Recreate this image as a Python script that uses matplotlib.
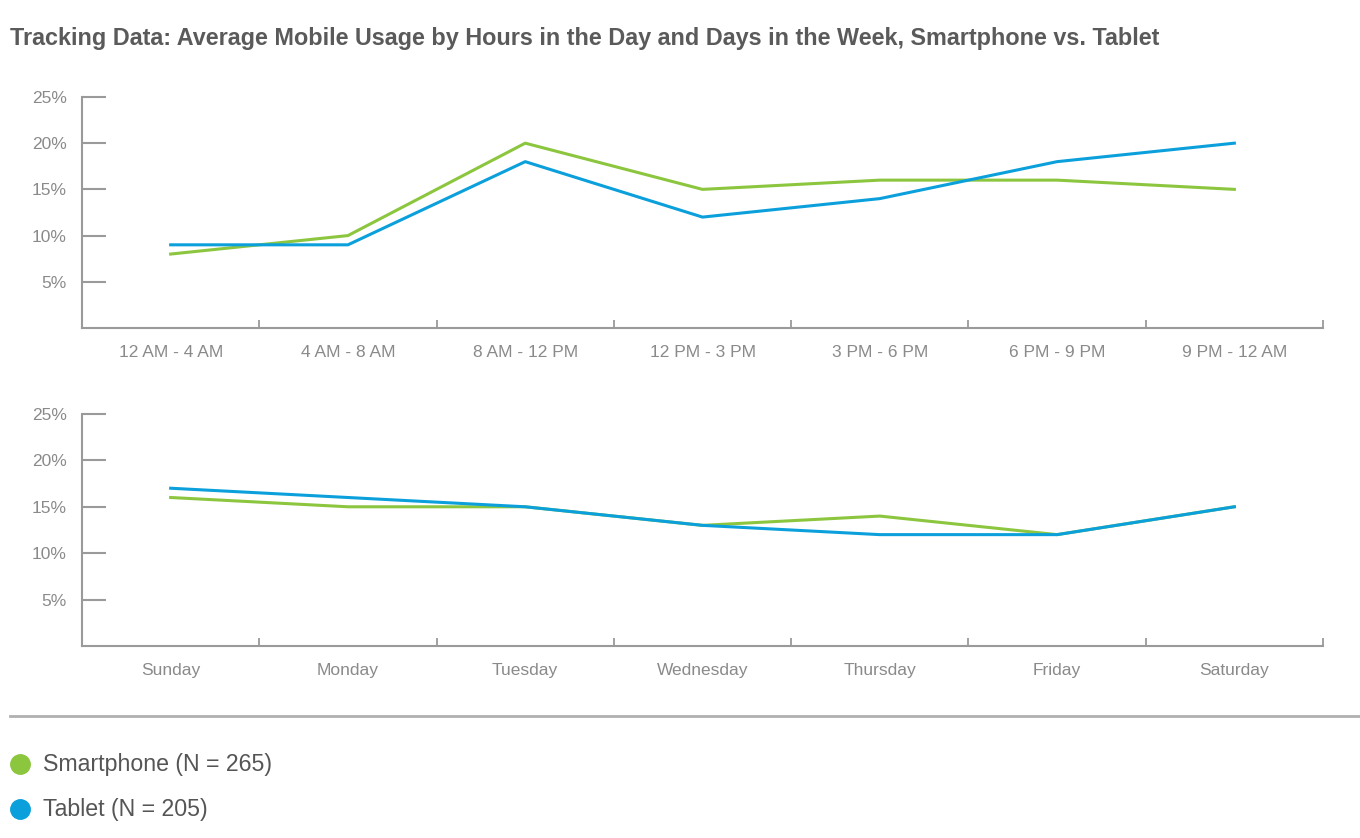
import matplotlib
matplotlib.use("Agg")
import matplotlib.pyplot as plt
from matplotlib.lines import Line2D

plt.rcParams['font.family'] = ['Liberation Sans', 'DejaVu Sans']

hours = ["12 AM - 4 AM", "4 AM - 8 AM", "8 AM - 12 PM", "12 PM - 3 PM",
         "3 PM - 6 PM", "6 PM - 9 PM", "9 PM - 12 AM"]
days = ["Sunday", "Monday", "Tuesday", "Wednesday", "Thursday", "Friday", "Saturday"]

phone_hours = [8, 10, 20, 15, 16, 16, 15]
tablet_hours = [9, 9, 18, 12, 14, 18, 20]
phone_days = [16, 15, 15, 13, 14, 12, 15]
tablet_days = [17, 16, 15, 13, 12, 12, 15]

green = "#8cc63f"
blue = "#0ba0db"
axis_gray = "#9a9a9a"
label_gray = "#8a8a8a"

fig = plt.figure(figsize=(13.6, 8.38), dpi=100)

def panel(rect, labels, phone, tablet):
    ax = fig.add_axes(rect)
    x = [i + 0.5 for i in range(len(labels))]
    ax.plot(x, phone, color=green, lw=2.2, zorder=3)
    ax.plot(x, tablet, color=blue, lw=2.2, zorder=4)
    ax.set_xlim(0, len(labels))
    ax.set_ylim(0, 25)
    ax.set_yticks([5, 10, 15, 20, 25])
    ax.set_yticklabels(["5%", "10%", "15%", "20%", "25%"])
    ax.set_xticks(range(len(labels) + 1))
    ax.set_xticklabels([])
    ax.set_xticks(x, minor=True)
    ax.set_xticklabels(labels, minor=True)
    ax.tick_params(axis='x', which='major', direction='in', length=6, width=1.3, color=axis_gray)
    ax.tick_params(axis='x', which='minor', length=0, pad=12, labelsize=12.5, labelcolor=label_gray)
    ax.tick_params(axis='y', direction='in', length=17, width=1.5, color=axis_gray,
                   pad=11, labelsize=12.5, labelcolor=label_gray)
    for s in ['top', 'right']:
        ax.spines[s].set_visible(False)
    for s in ['left', 'bottom']:
        ax.spines[s].set_color(axis_gray)
        ax.spines[s].set_linewidth(1.5)
    return ax

panel([0.0603, 0.6086, 0.9125, 0.2757], hours, phone_hours, tablet_hours)
panel([0.0603, 0.2291, 0.9125, 0.2769], days, phone_days, tablet_days)

fig.text(0.0074, 1 - 38 / 838, "Tracking Data: Average Mobile Usage by Hours in the Day and Days in the Week, Smartphone vs. Tablet",
         fontsize=16.8, fontweight='bold', color="#5a5a5a", va='center')

fig.add_artist(Line2D([0.0074, 1.0], [1 - 716 / 838] * 2, color="#b0b0b0", lw=2))

legend_items = [("Smartphone (N = 265)", green, 764), ("Tablet (N = 205)", blue, 809)]
for label, col, yp in legend_items:
    yf = 1 - yp / 838
    fig.add_artist(Line2D([20 / 1360], [yf], marker='o', markersize=14, color=col, lw=0))
    fig.text(43 / 1360, yf, label, fontsize=16.7, color="#555555", va='center')

fig.savefig("out.png", dpi=100)
